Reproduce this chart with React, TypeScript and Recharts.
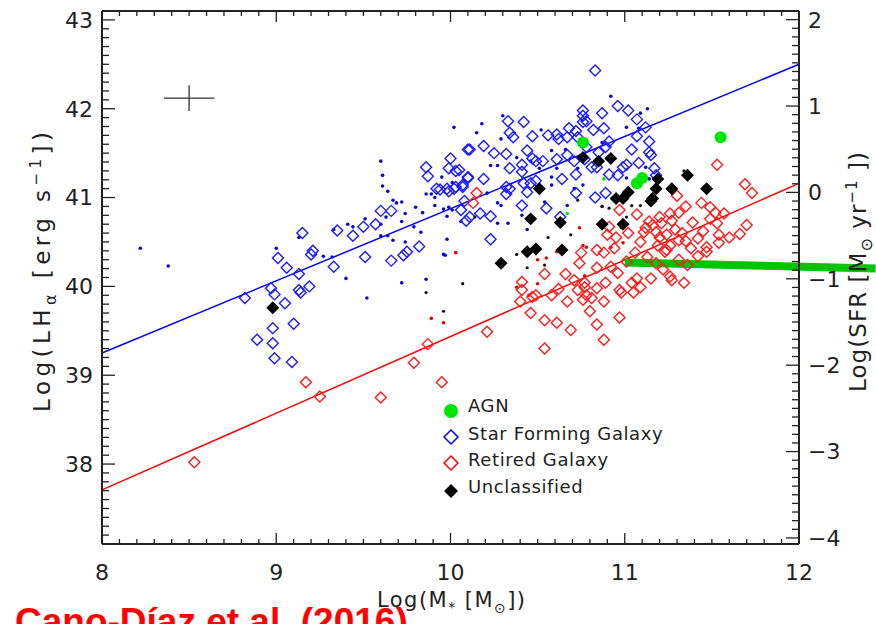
import React from "react";
import { ReferenceLine, Scatter, ScatterChart, XAxis, YAxis } from "recharts";

// [log M*, log LHa] pairs
const SFG_DIAMONDS = [
  [8.82, 39.87], [8.89, 39.4], [8.98, 39.36], [8.99, 39.19], [9.09, 39.15], [8.98, 39.53], [9.1, 39.58],
  [9.05, 39.81], [8.97, 39.98], [8.99, 39.91], [9.13, 39.96], [9.14, 39.93], [9.19, 40.0], [9.01, 40.32],
  [9.06, 40.21], [9.13, 40.14], [9.15, 40.6], [9.2, 40.36], [9.21, 40.4], [9.33, 40.22], [9.35, 40.63],
  [9.44, 40.57], [9.51, 40.33], [9.5, 40.67], [9.57, 40.7], [9.6, 40.85], [9.66, 40.85], [9.66, 40.29],
  [9.73, 40.35], [9.75, 40.39], [9.82, 40.45], [9.86, 41.34], [9.87, 41.24], [9.92, 41.1], [9.94, 41.09],
  [9.99, 41.07], [10.0, 41.44], [10.03, 41.3], [10.03, 41.12], [10.07, 41.12], [10.08, 40.96], [10.06, 40.86],
  [10.09, 40.74], [10.1, 41.54], [10.1, 41.22], [10.76, 41.98], [10.76, 41.85], [10.78, 41.86], [10.33, 41.86],
  [10.42, 41.85], [10.34, 41.73], [10.36, 41.68], [10.47, 41.69], [10.56, 41.7], [10.61, 41.71], [10.62, 41.66],
  [10.67, 41.68], [10.68, 41.78], [10.72, 41.75], [10.73, 41.68], [10.78, 41.57], [10.11, 41.54], [10.19, 41.58],
  [10.25, 41.5], [10.32, 41.49], [10.44, 41.53], [9.99, 41.33], [10.05, 41.31], [10.34, 41.33], [10.41, 41.37],
  [10.41, 41.29], [10.47, 41.44], [10.49, 41.41], [10.53, 41.41], [10.61, 41.43], [10.67, 41.48], [10.71, 41.41],
  [10.72, 41.26], [10.64, 41.21], [10.1, 41.23], [10.19, 41.21], [10.07, 41.14], [10.02, 41.1], [10.32, 41.12],
  [10.42, 41.16], [10.49, 41.19], [9.98, 41.1], [10.83, 42.43], [10.76, 41.92], [10.87, 41.95], [10.96, 42.03],
  [11.02, 41.98], [11.07, 41.88], [11.12, 41.79], [10.82, 41.76], [10.88, 41.78], [11.14, 41.63], [11.07, 41.69],
  [11.04, 41.54], [11.15, 41.48], [10.91, 41.63], [10.89, 41.57], [10.85, 41.51], [10.81, 41.34], [10.96, 41.25],
  [10.99, 41.34], [11.01, 41.37], [11.08, 41.39], [11.17, 41.33], [11.18, 41.25], [10.77, 41.43], [10.84, 41.34],
  [10.91, 41.26], [11.14, 41.51], [10.83, 41.0], [10.89, 41.05], [10.17, 40.82], [10.23, 40.79], [10.11, 40.78],
  [10.23, 40.53], [10.32, 41.04], [10.34, 41.1], [10.41, 40.91], [10.44, 41.06], [10.46, 41.16], [10.55, 40.88],
  [10.63, 40.78], [10.72, 41.05],
];

const SFG_DOTS = [
  [8.22, 40.43], [8.38, 40.23], [9.0, 40.43], [9.13, 40.55], [9.27, 40.34], [9.33, 40.64], [9.41, 40.7],
  [9.44, 40.67], [9.51, 40.76], [9.6, 41.41], [9.61, 41.25], [9.61, 41.13], [9.64, 41.07], [9.67, 40.97],
  [9.69, 40.94], [9.72, 40.95], [9.63, 40.78], [9.6, 40.7], [9.6, 40.57], [9.64, 40.57], [9.67, 40.52],
  [9.74, 40.5], [9.74, 40.82], [9.72, 40.73], [9.79, 40.67], [9.8, 40.89], [9.84, 40.83], [9.83, 40.61],
  [9.86, 41.04], [9.89, 41.04], [9.91, 41.0], [9.91, 40.91], [9.96, 40.87], [9.99, 40.89], [10.01, 40.86],
  [9.98, 40.79], [9.98, 40.53], [9.96, 40.36], [10.02, 41.79], [10.06, 40.73], [9.95, 41.23], [10.01, 41.17],
  [9.4, 40.09], [9.52, 39.87], [9.72, 40.04], [9.86, 40.08], [9.97, 40.35], [9.32, 40.33], [10.18, 41.83],
  [10.15, 41.73], [10.29, 41.66], [10.3, 41.92], [10.52, 41.76], [10.23, 41.36], [10.27, 41.36], [10.38, 41.45],
  [10.46, 41.41], [10.58, 41.53], [10.66, 41.54], [10.73, 41.33], [10.61, 41.33], [10.58, 41.23], [10.51, 41.33],
  [10.92, 42.14], [11.13, 42.0], [11.09, 41.95], [11.01, 41.79], [11.08, 41.78], [11.12, 41.34], [10.87, 41.62],
  [10.93, 41.44], [11.01, 41.22], [11.14, 41.21], [10.21, 41.05], [10.29, 40.91], [10.33, 40.71], [10.27, 40.71],
  [10.41, 40.8], [10.44, 40.64], [10.27, 40.94], [10.58, 41.14], [10.67, 40.91], [10.71, 41.1], [10.76, 41.14],
  [10.54, 40.95],
];

const RG_DIAMONDS = [
  [8.53, 38.02], [9.17, 38.92], [9.25, 38.76], [9.6, 38.75], [9.79, 39.14], [9.87, 39.35], [9.95, 38.92],
  [10.21, 39.49], [10.15, 41.05], [10.13, 40.94], [10.54, 40.14], [10.66, 40.14], [10.75, 40.38], [10.41, 40.05],
  [10.41, 39.96], [10.47, 39.88], [10.49, 39.9], [10.58, 39.9], [10.4, 39.83], [10.71, 40.07], [10.73, 39.96],
  [10.77, 39.99], [10.78, 39.9], [10.67, 39.83], [10.76, 39.85], [10.54, 39.3], [10.54, 39.62], [10.61, 39.59],
  [10.69, 39.51], [10.84, 39.57], [10.46, 39.7], [10.88, 39.4], [10.97, 39.65], [10.8, 39.72], [11.69, 41.15],
  [11.73, 41.05], [11.53, 41.37], [11.3, 41.02], [11.35, 40.9], [11.44, 40.94], [11.49, 40.89], [11.52, 40.83],
  [11.57, 40.82], [11.31, 40.83], [11.26, 40.82], [11.2, 40.78], [11.27, 40.74], [11.21, 40.71], [10.97, 40.86],
  [11.07, 40.81], [11.14, 40.73], [11.39, 40.72], [11.49, 40.76], [11.53, 40.71], [11.7, 40.69], [11.66, 40.59],
  [11.54, 40.58], [11.54, 40.49], [11.42, 40.54], [11.35, 40.51], [11.31, 40.52], [11.24, 40.58], [11.2, 40.55],
  [11.18, 40.61], [11.11, 40.61], [11.16, 40.69], [10.91, 40.67], [10.9, 40.58], [10.95, 40.55], [11.09, 40.5],
  [11.19, 40.46], [11.26, 40.46], [11.24, 40.41], [11.23, 40.39], [11.38, 40.43], [11.47, 40.44], [11.47, 40.39],
  [11.42, 40.34], [10.94, 40.43], [10.88, 40.38], [10.84, 40.41], [10.92, 40.22], [10.84, 40.21], [10.77, 40.04],
  [10.89, 40.04], [10.84, 39.98], [10.81, 39.87], [10.88, 39.83], [10.97, 39.96], [10.98, 39.93], [11.04, 40.04],
  [11.07, 40.09], [11.09, 39.99], [11.15, 40.09], [11.22, 40.19], [11.26, 40.11], [11.27, 40.07], [11.34, 40.04],
  [10.74, 40.26], [10.62, 39.97], [11.05, 39.93], [11.12, 40.66], [11.29, 40.64], [11.33, 40.6], [11.45, 40.62],
  [11.02, 40.6], [11.06, 40.38], [11.13, 40.33], [11.31, 40.3], [11.36, 40.24], [11.6, 40.55], [11.18, 40.26],
  [11.01, 40.28], [10.96, 40.15],
];

const RG_DOTS = [
  [9.89, 39.64], [9.96, 39.59], [10.03, 40.38], [10.74, 40.66], [10.76, 40.46], [10.61, 40.39], [10.5, 40.3],
  [10.38, 39.99], [10.45, 39.9], [10.87, 40.9], [10.55, 40.32], [10.5, 40.03], [10.99, 40.49], [10.78, 40.44],
  [10.92, 40.44], [10.77, 40.12],
];

const UNC_DIAMONDS = [
  [8.98, 39.76], [10.29, 40.26], [10.44, 40.39], [10.49, 40.42], [10.64, 40.41], [10.46, 40.76], [10.63, 40.72],
  [10.87, 40.7], [10.99, 40.7], [10.51, 41.1], [10.76, 41.45], [10.85, 41.41], [10.92, 41.44], [10.95, 40.99],
  [10.99, 40.99], [11.02, 41.06], [11.15, 40.96], [11.16, 40.99], [11.18, 41.1], [11.19, 41.21], [11.27, 41.1],
  [11.36, 41.25], [11.47, 41.1],
];

const UNC_DOTS = [
  [9.86, 39.93], [9.96, 39.72], [10.07, 40.03], [10.14, 40.78], [10.38, 40.36], [10.44, 40.21], [10.54, 40.24],
  [10.56, 40.55], [10.69, 40.58], [10.73, 40.97], [10.87, 40.9], [10.91, 40.88], [11.04, 40.91], [11.09, 40.91],
  [11.34, 41.3], [10.98, 40.66], [11.01, 40.78],
];

const AGN_POINTS = [[10.76, 41.62], [11.55, 41.68], [11.1, 41.22], [11.07, 41.16]];
const AGN_DOTS = [[10.67, 40.82], [10.88, 41.21]];

// linear fits [x0, y0, x1, y1]
const SFG_FIT = [8, 39.25, 12, 42.5];
const RG_FIT = [8, 37.71, 12, 41.16];
const GREEN_BAR = [11.0, 40.27, 12.44, 40.2];
// typical error cross: centre and half widths
const ERROR_CROSS = [8.5, 42.12, 0.145, 0.145];

const X_DOMAIN = [8, 12];
const Y_DOMAIN = [37.1, 43.1];
const SFR_DOMAIN = [-4.07, 2.1];

const INK = "#222";
const FONT = "'DejaVu Sans', sans-serif";

const steps = (from: number, to: number) => {
  const out: number[] = [];
  for (let i = Math.ceil(from * 10 - 1e-6); i <= Math.floor(to * 10 + 1e-6); i++) out.push(i / 10);
  return out;
};
const isMajor = (v: number) => Math.abs(v - Math.round(v)) < 1e-6;
const fmt = (v: number) => (v < 0 ? `\u2212${Math.abs(Math.round(v))}` : `${Math.round(v)}`);
const toPts = (arr: number[][]) => arr.map(([x, y]) => ({ x, y }));

function BottomTick({ x, y, payload }: any) {
  const major = isMajor(payload.value);
  return (
    <g>
      <line x1={x} x2={x} y1={y} y2={y - (major ? 11 : 5)} stroke={INK} strokeWidth={1.3} />
      {major && (
        <text x={x} y={y + 36} textAnchor="middle" fontSize={22} fontFamily={FONT} fill={INK}>
          {fmt(payload.value)}
        </text>
      )}
    </g>
  );
}

function TopTick({ x, y, payload }: any) {
  const major = isMajor(payload.value);
  return <line x1={x} x2={x} y1={y} y2={y + (major ? 11 : 5)} stroke={INK} strokeWidth={1.3} />;
}

function LeftTick({ x, y, payload }: any) {
  const major = isMajor(payload.value);
  return (
    <g>
      <line x1={x} x2={x + (major ? 13 : 7)} y1={y} y2={y} stroke={INK} strokeWidth={1.3} />
      {major && (
        <text x={x - 9} y={y} dy="0.36em" textAnchor="end" fontSize={22} fontFamily={FONT} fill={INK}>
          {fmt(payload.value)}
        </text>
      )}
    </g>
  );
}

function RightTick({ x, y, payload }: any) {
  const major = isMajor(payload.value);
  return (
    <g>
      <line x1={x} x2={x - (major ? 13 : 7)} y1={y} y2={y} stroke={INK} strokeWidth={1.3} />
      {major && (
        <text x={x + 9} y={y} dy="0.36em" textAnchor="start" fontSize={22} fontFamily={FONT} fill={INK}>
          {fmt(payload.value)}
        </text>
      )}
    </g>
  );
}

const diamond = (r: number, stroke: string, fill: string) => (props: any) => {
  const { cx, cy } = props;
  if (cx == null || cy == null) return <g />;
  return (
    <path
      d={`M${cx},${cy - r}L${cx + r},${cy}L${cx},${cy + r}L${cx - r},${cy}Z`}
      stroke={stroke}
      strokeWidth={1.4}
      fill={fill}
    />
  );
};
const dot = (r: number, fill: string) => (props: any) => {
  const { cx, cy } = props;
  if (cx == null || cy == null) return <g />;
  return <circle cx={cx} cy={cy} r={r} fill={fill} />;
};

const seg = (s: number[]) => [
  { x: s[0], y: s[1] },
  { x: s[2], y: s[3] },
];

const axisLine = { stroke: INK, strokeWidth: 2 };

function Overlay() {
  return (
    <svg width={876} height={624} style={{ position: "absolute", left: 0, top: 0, pointerEvents: "none" }}>
      <g fontFamily={FONT} fill={INK}>
        <text x={451} y={607} fontSize={21} textAnchor="middle" textLength={148} lengthAdjust="spacing">
          Log(M<tspan dy={5} fontSize={14}>*</tspan>
          <tspan dy={-5}> [M</tspan>
          <tspan dy={6} fontSize={14}>⊙</tspan>
          <tspan dy={-6}>])</tspan>
        </text>
        <text
          transform="translate(50,272) rotate(-90)"
          fontSize={23}
          textAnchor="middle"
          textLength={280}
          lengthAdjust="spacing"
        >
          Log(LH<tspan dy={6} fontSize={16}>α</tspan>
          <tspan dy={-6}> [erg s</tspan>
          <tspan dy={-9} fontSize={15}>−1</tspan>
          <tspan dy={9}>])</tspan>
        </text>
        <text
          transform="translate(866,272) rotate(-90)"
          fontSize={23}
          textAnchor="middle"
          textLength={240}
          lengthAdjust="spacing"
        >
          Log(SFR [M<tspan dy={6} fontSize={16}>⊙</tspan>
          <tspan dy={-6}> yr</tspan>
          <tspan dy={-9} fontSize={15}>−1</tspan>
          <tspan dy={9}> ])</tspan>
        </text>

        <circle cx={451} cy={411} r={7} fill="#00e600" />
        <path d="M451,430L458,437L451,444L444,437Z" fill="none" stroke="#0000ff" strokeWidth={1.5} />
        <path d="M451,456L458,463L451,470L444,463Z" fill="none" stroke="#ff0000" strokeWidth={1.5} />
        <path d="M451,484L458,491L451,498L444,491Z" fill="#000" />
        <g fontSize={18} letterSpacing={0.6}>
          <text x={468} y={412}>AGN</text>
          <text x={468} y={440}>Star Forming Galaxy</text>
          <text x={468} y={466}>Retired Galaxy</text>
          <text x={468} y={493}>Unclassified</text>
        </g>
      </g>
      <text
        x={15}
        y={634}
        fontSize={37}
        fontWeight="bold"
        fontFamily="'Liberation Sans', Arial, sans-serif"
        fill="#ff0000"
      >
        Cano-Díaz et al. (2016)
      </text>
    </svg>
  );
}

export default function App() {
  return (
    <div
      style={{ position: "absolute", left: 0, top: 0, width: 876, height: 624, background: "#fff", overflow: "hidden" }}
    >
      <ScatterChart width={876} height={624} margin={{ top: 10, right: 76, bottom: 79, left: 101 }}>
        <XAxis
          xAxisId="b"
          type="number"
          dataKey="x"
          domain={X_DOMAIN}
          allowDataOverflow
          ticks={steps(8, 12)}
          interval={0}
          height={1}
          tickSize={0}
          tickMargin={0}
          tickLine={false}
          axisLine={axisLine}
          tick={<BottomTick />}
        />
        <XAxis
          xAxisId="t"
          orientation="top"
          type="number"
          dataKey="x"
          domain={X_DOMAIN}
          allowDataOverflow
          ticks={steps(8, 12)}
          interval={0}
          height={1}
          tickSize={0}
          tickMargin={0}
          tickLine={false}
          axisLine={axisLine}
          tick={<TopTick />}
        />
        <YAxis
          yAxisId="l"
          type="number"
          dataKey="y"
          domain={Y_DOMAIN}
          allowDataOverflow
          ticks={steps(37.1, 43.0)}
          interval={0}
          width={1}
          tickSize={0}
          tickMargin={0}
          tickLine={false}
          axisLine={axisLine}
          tick={<LeftTick />}
        />
        <YAxis
          yAxisId="r"
          orientation="right"
          type="number"
          domain={SFR_DOMAIN}
          allowDataOverflow
          ticks={steps(-4.0, 2.0)}
          interval={0}
          width={1}
          tickSize={0}
          tickMargin={0}
          tickLine={false}
          axisLine={axisLine}
          tick={<RightTick />}
        />

        <ReferenceLine
          xAxisId="b"
          yAxisId="l"
          segment={[
            { x: ERROR_CROSS[0] - ERROR_CROSS[2], y: ERROR_CROSS[1] },
            { x: ERROR_CROSS[0] + ERROR_CROSS[2], y: ERROR_CROSS[1] },
          ]}
          stroke="#333"
          strokeWidth={1.3}
        />
        <ReferenceLine
          xAxisId="b"
          yAxisId="l"
          segment={[
            { x: ERROR_CROSS[0], y: ERROR_CROSS[1] - ERROR_CROSS[3] },
            { x: ERROR_CROSS[0], y: ERROR_CROSS[1] + ERROR_CROSS[3] },
          ]}
          stroke="#333"
          strokeWidth={1.3}
        />

        <Scatter xAxisId="b" yAxisId="l" data={toPts(SFG_DOTS)} shape={dot(1.8, "#0a0ad2")} isAnimationActive={false} />
        <Scatter xAxisId="b" yAxisId="l" data={toPts(SFG_DIAMONDS)} shape={diamond(5.5, "#1a1aff", "none")} isAnimationActive={false} />
        <Scatter xAxisId="b" yAxisId="l" data={toPts(RG_DOTS)} shape={dot(1.8, "#ee0000")} isAnimationActive={false} />
        <Scatter xAxisId="b" yAxisId="l" data={toPts(RG_DIAMONDS)} shape={diamond(5.5, "#ff1a1a", "none")} isAnimationActive={false} />
        <Scatter xAxisId="b" yAxisId="l" data={toPts(UNC_DOTS)} shape={dot(1.6, "#111")} isAnimationActive={false} />
        <Scatter xAxisId="b" yAxisId="l" data={toPts(UNC_DIAMONDS)} shape={diamond(5.5, "#000", "#000")} isAnimationActive={false} />
        <Scatter xAxisId="b" yAxisId="l" data={toPts(AGN_DOTS)} shape={dot(1.8, "#00e600")} isAnimationActive={false} />
        <Scatter xAxisId="b" yAxisId="l" data={toPts(AGN_POINTS)} shape={dot(6, "#00e600")} isAnimationActive={false} />

        <ReferenceLine xAxisId="b" yAxisId="l" segment={seg(SFG_FIT)} stroke="#0000ff" strokeWidth={1.5} />
        <ReferenceLine xAxisId="b" yAxisId="l" segment={seg(RG_FIT)} stroke="#ff0000" strokeWidth={1.5} />
        <ReferenceLine
          xAxisId="b"
          yAxisId="l"
          segment={seg(GREEN_BAR)}
          ifOverflow="visible"
          stroke="#00c400"
          strokeWidth={8}
        />
      </ScatterChart>
      <Overlay />
    </div>
  );
}
